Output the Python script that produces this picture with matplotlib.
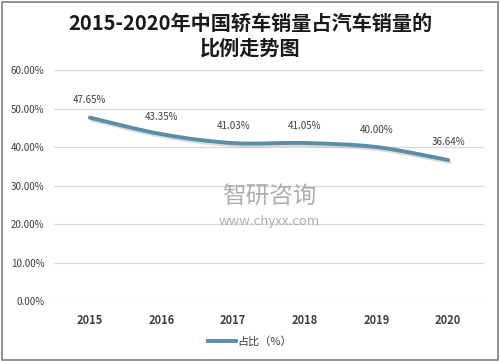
import matplotlib.pyplot as plt
import matplotlib.transforms as mtrans
from matplotlib.path import Path
from matplotlib.patches import PathPatch, Rectangle
from matplotlib.lines import Line2D
import numpy as np

plt.rcParams['font.family'] = ['Noto Sans CJK SC', 'DejaVu Sans']

years = ['2015', '2016', '2017', '2018', '2019', '2020']
share = [47.65, 43.35, 41.03, 41.05, 40.00, 36.64]
labels = ['47.65%', '43.35%', '41.03%', '41.05%', '40.00%', '36.64%']
yticks = [0, 10, 20, 30, 40, 50, 60]

line_color = '#5b8ea6'

fig = plt.figure(figsize=(5, 3.61), dpi=100)
fig.patches.append(Rectangle((0.003, 0.004), 0.992, 0.99, transform=fig.transFigure,
                             fill=False, edgecolor='#7f7f7f', linewidth=1.2))
ax = fig.add_axes([0.108, 0.166, 0.86, 0.64])

x = np.arange(len(years))
y = np.array(share)

# smooth curve like Excel: Catmull-Rom -> Bezier control points
verts = [(x[0], y[0])]
codes = [Path.MOVETO]
for i in range(len(x) - 1):
    p0 = (x[max(i - 1, 0)], y[max(i - 1, 0)])
    p1 = (x[i], y[i])
    p2 = (x[i + 1], y[i + 1])
    p3 = (x[min(i + 2, len(x) - 1)], y[min(i + 2, len(x) - 1)])
    c1 = (p1[0] + (p2[0] - p0[0]) / 6, p1[1] + (p2[1] - p0[1]) / 6)
    c2 = (p2[0] - (p3[0] - p1[0]) / 6, p2[1] - (p3[1] - p1[1]) / 6)
    verts += [c1, c2, p2]
    codes += [Path.CURVE4] * 3

shadow_tr = ax.transData + mtrans.ScaledTranslation(1 / 72, -1.5 / 72, fig.dpi_scale_trans)
ax.add_patch(PathPatch(Path(verts, codes), fill=False, edgecolor='#b0b0b0', alpha=0.45,
                       linewidth=2.8, transform=shadow_tr, capstyle='round'))
ax.add_patch(PathPatch(Path(verts, codes), fill=False, edgecolor=line_color,
                       linewidth=2.8, capstyle='round'))

for xi, yi, lab in zip(x, y, labels):
    ax.annotate(lab, (xi, yi), xytext=(0, 9), textcoords='offset points',
                ha='center', va='bottom', fontsize=7, color='#404040')

ax.set_xlim(-0.5, len(years) - 0.5)
ax.set_ylim(0, 60)
ax.set_yticks(yticks)
ax.set_yticklabels([f'{v:.2f}%' for v in yticks], fontsize=7, color='#404040')
ax.set_xticks(x)
ax.set_xticklabels(years, fontsize=8, fontweight='bold', color='#404040')
ax.tick_params(length=0)
ax.tick_params(axis='y', pad=7)
ax.tick_params(axis='x', pad=9)
ax.grid(axis='y', color='#d9d9d9', linewidth=0.9)
ax.set_axisbelow(True)
for s in ax.spines.values():
    s.set_visible(False)

# watermark
ax.text(0.5, 0.45, '智研咨询', transform=ax.transAxes, ha='center', va='center',
        fontsize=17, color='#9a9a9a', alpha=0.8)
ax.text(0.5, 0.345, 'www.chyxx.com', transform=ax.transAxes, ha='center', va='center',
        fontsize=9.5, color='#9a9a9a', alpha=0.8)

fig.text(0.5, 0.965, '2015-2020年中国轿车销量占汽车销量的\n比例走势图', ha='center', va='top',
         fontsize=14.5, fontweight='bold', color='#1a1a1a', linespacing=1.25)

handle = Line2D([], [], color=line_color, linewidth=2.8)
fig.legend([handle], ['占比（%）'], loc='center', bbox_to_anchor=(0.5, 0.055),
           frameon=False, fontsize=8, handlelength=2.5, handletextpad=0.1,
           labelcolor='#404040')

fig.savefig('out.png', dpi=100)
